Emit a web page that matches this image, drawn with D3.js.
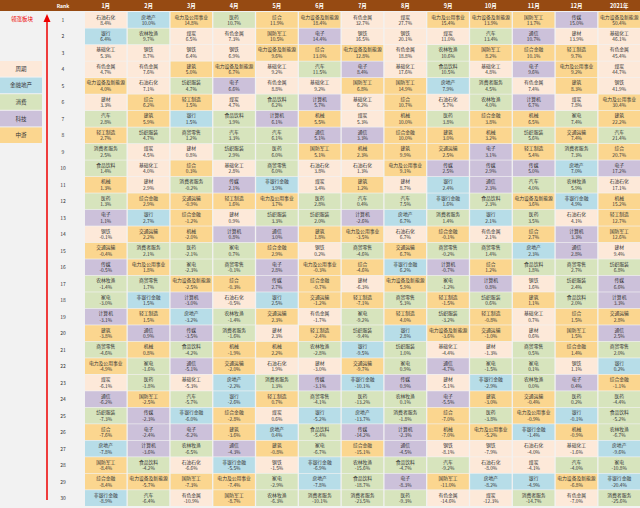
<!DOCTYPE html>
<html><head><meta charset="utf-8">
<script src="https://cdn.jsdelivr.net/npm/d3@7"></script>
<style>body{margin:0;background:#f2f2f2;}svg{display:block;font-family:"Noto Sans CJK SC",sans-serif;}</style>
</head><body><svg id="c" width="640" height="508"></svg>
<script>
const months = ["1月","2月","3月","4月","5月","6月","7月","8月","9月","10月","11月","12月","2021年"];
const n1 = ["石油石化","银行","基础化工","有色金属","电力设备及新能源","建材","汽车","轻工制造","消费者服务","食品饮料","机械","医药","电子","钢铁","交通运输","传媒","农林牧渔","家电","计算机","建筑","商贸零售","电力及公用事业","煤炭","通信","纺织服装","综合","房地产","国防军工","综合金融","非银行金融"];
const v1 = [8.4,6.4,5.3,4.7,4.0,3.3,2.8,2.7,2.5,1.4,1.3,1.3,1.1,-0.1,-0.4,-0.5,-1.4,-3.0,-3.1,-3.8,-4.6,-4.9,-6.1,-6.2,-7.3,-7.6,-7.8,-8.4,-8.4,-8.9];
const n2 = ["房地产","农林牧渔","钢铁","有色金属","石油石化","综合","建筑","纺织服装","煤炭","基础化工","建材","综合金融","银行","交通运输","消费者服务","电力及公用事业","商贸零售","非银行金融","轻工制造","通信","机械","家电","医药","国防军工","传媒","电子","计算机","食品饮料","电力设备及新能源","汽车"];
const v2 = [10.0,9.7,8.7,7.6,7.1,6.2,5.9,4.7,4.5,4.0,2.9,2.9,2.7,2.2,2.1,1.8,1.7,1.5,1.5,0.9,0.8,-1.6,-1.8,-2.5,-2.3,-2.4,-3.6,-4.2,-5.7,-6.4];
const n3 = ["电力及公用事业","煤炭","钢铁","建筑","纺织服装","轻工制造","银行","商贸零售","建材","综合","消费者服务","交通运输","综合金融","机械","医药","家电","电力设备及新能源","计算机","房地产","传媒","食品饮料","通信","基础化工","汽车","非银行金融","电子","农林牧渔","石油石化","国防军工","有色金属"];
const v3 = [14.8,6.5,6.4,5.0,4.7,1.5,1.5,1.2,0.8,0.3,-0.2,-0.9,-1.2,-2.0,-2.1,-2.3,-2.5,-3.0,-3.2,-3.5,-4.2,-5.1,-5.3,-5.7,-6.0,-6.2,-6.5,-6.6,-7.3,-10.9];
const n4 = ["医药","有色金属","钢铁","电力设备及新能源","电子","煤炭","食品饮料","汽车","纺织服装","基础化工","传媒","轻工制造","建材","计算机","家电","商贸零售","综合","石油石化","农林牧渔","消费者服务","机械","交通运输","房地产","银行","综合金融","建筑","通信","非银行金融","电力及公用事业","国防军工"];
const v4 = [10.7,7.3,6.9,6.7,6.6,4.7,3.9,3.3,2.9,2.8,2.1,1.6,0.9,0.8,0.7,-0.1,-0.3,-0.5,-1.4,-1.6,-1.9,-2.0,-2.2,-2.6,-2.8,-3.6,-4.3,-5.5,-7.4,-8.7];
const n5 = ["综合","国防军工","电力设备及新能源","基础化工","有色金属","食品饮料","计算机","汽车","医药","商贸零售","非银行金融","电力及公用事业","纺织服装","通信","综合金融","电子","传媒","银行","交通运输","建材","机械","石油石化","消费者服务","轻工制造","煤炭","房地产","建筑","钢铁","家电","农林牧渔"];
const v5 = [11.9,10.5,9.6,9.2,8.8,6.2,6.1,6.1,6.0,6.0,3.9,3.7,3.3,3.0,2.9,2.8,2.7,2.5,2.3,2.3,2.2,1.9,1.3,0.7,0.6,0.4,-0.8,-1.5,-2.9,-6.3];
const n6 = ["电力设备及新能源","电子","综合","汽车","基础化工","计算机","机械","通信","国防军工","石油石化","煤炭","医药","纺织服装","建筑","钢铁","电力及公用事业","综合金融","交通运输","有色金属","轻工制造","农林牧渔","建材","传媒","商贸零售","银行","食品饮料","家电","非银行金融","房地产","消费者服务"];
const v6 = [18.4,14.4,13.0,11.5,9.2,5.7,5.5,5.1,5.1,3.8,3.4,2.8,2.0,1.8,0.2,-0.3,-0.7,-1.2,-1.7,-2.4,-2.8,-3.0,-3.1,-4.1,-5.2,-5.4,-6.7,-6.9,-7.8,-10.1];
const n7 = ["有色金属","钢铁","电力设备及新能源","电子","国防军工","基础化工","煤炭","通信","机械","石油石化","建筑","汽车","计算机","电力及公用事业","商贸零售","综合","建材","轻工制造","家电","纺织服装","银行","交通运输","非银行金融","医药","房地产","传媒","综合金融","农林牧渔","食品饮料","消费者服务"];
const v7 = [32.7,16.5,12.8,8.4,6.8,6.2,5.3,3.3,2.3,1.3,1.2,0.4,-2.6,-3.5,-4.6,-4.6,-6.3,-7.1,-9.2,-9.4,-9.5,-9.7,-10.1,-13.2,-13.7,-14.2,-15.1,-15.6,-18.7,-23.5];
const n8 = ["煤炭","钢铁","有色金属","基础化工","国防军工","综合","机械","综合金融","建筑","电力及公用事业","建材","汽车","房地产","石油石化","交通运输","非银行金融","电力设备及新能源","商贸零售","轻工制造","银行","纺织服装","家电","传媒","农林牧渔","消费者服务","计算机","通信","食品饮料","电子","医药"];
const v8 = [27.7,20.1,18.8,17.6,14.9,10.7,10.0,10.0,9.9,9.1,8.7,7.5,6.7,6.7,6.7,6.2,5.9,5.3,4.0,2.8,1.0,0.9,0.9,0.1,-1.8,-2.3,-4.5,-4.7,-8.3,-9.3];
const n9 = ["电力及公用事业","煤炭","农林牧渔","食品饮料","房地产","石油石化","医药","建筑","交通运输","传媒","银行","非银行金融","消费者服务","综合金融","商贸零售","计算机","家电","轻工制造","纺织服装","电力设备及新能源","基础化工","通信","建材","电子","综合","机械","钢铁","汽车","国防军工","有色金属"];
const v9 = [15.4,11.0,10.6,10.5,7.9,5.7,3.8,3.0,2.5,2.5,2.4,1.6,1.4,-0.1,-0.2,-0.7,-1.2,-1.5,-3.2,-3.6,-4.4,-4.7,-5.1,-5.5,-7.0,-7.0,-8.1,-9.2,-11.0,-14.6];
const n10 = ["电力设备及新能源","汽车","国防军工","基础化工","消费者服务","农林牧渔","综合金融","机械","电子","传媒","通信","食品饮料","银行","有色金属","商贸零售","综合","计算机","纺织服装","轻工制造","交通运输","建材","家电","非银行金融","建筑","医药","电力及公用事业","钢铁","石油石化","房地产","煤炭"];
const v10 = [13.9,13.4,8.2,4.8,4.5,4.0,3.8,3.2,3.1,2.9,2.3,2.3,2.1,2.1,1.4,1.2,0.8,0.6,-0.8,-1.0,-1.3,-1.5,-2.9,-3.0,-3.8,-5.2,-7.9,-8.0,-8.2,-12.3];
const n11 = ["国防军工","通信","综合金融","电子","有色金属","计算机","机械","纺织服装","轻工制造","传媒","汽车","电力设备及新能源","医药","综合","房地产","食品饮料","钢铁","建筑","基础化工","建材","商贸零售","家电","农林牧渔","交通运输","电力及公用事业","非银行金融","石油石化","煤炭","银行","消费者服务"];
const v11 = [13.7,10.7,10.1,9.6,7.4,6.7,6.5,5.6,5.4,5.0,4.0,3.6,3.5,2.7,2.3,1.8,1.6,1.1,0.7,0.6,0.5,0.1,0.0,-0.4,-0.9,-1.4,-4.0,-4.1,-4.9,-14.7];
const n12 = ["传媒","建材","轻工制造","电力及公用事业","建筑","煤炭","家电","交通运输","消费者服务","房地产","农林牧渔","非银行金融","石油石化","计算机","通信","商贸零售","纺织服装","食品饮料","综合","国防军工","综合金融","钢铁","电子","医药","银行","机械","基础化工","汽车","电力设备及新能源","有色金属"];
const v12 = [15.0,13.9,9.7,9.2,8.3,7.8,7.4,7.4,7.3,7.0,5.9,4.9,4.1,3.3,2.8,2.7,2.4,2.0,1.5,1.5,1.4,1.1,0.4,0.2,-0.1,-0.9,-1.6,-4.0,-6.8,-7.0];
const n13 = ["电力设备及新能源","基础化工","有色金属","煤炭","钢铁","电力及公用事业","建筑","汽车","综合","电子","石油石化","机械","轻工制造","国防军工","建材","纺织服装","传媒","计算机","交通运输","通信","商贸零售","银行","综合金融","医药","食品饮料","农林牧渔","房地产","家电","非银行金融","消费者服务"];
const v13 = [50.4,46.1,45.4,44.7,41.9,30.4,22.2,21.4,20.7,17.2,17.1,15.2,12.7,12.6,9.4,6.8,6.6,3.3,2.8,2.5,2.0,0.2,-1.1,-4.4,-5.2,-6.7,-9.6,-10.8,-20.4,-25.6];
const groups = ["周期","金融地产","消费","科技","中游"];
const cyc = ["石油石化","煤炭","有色金属","钢铁","基础化工","建材"];
const fin = ["银行","非银行金融","房地产"];
const con = ["汽车","家电","食品饮料","纺织服装","医药","农林牧渔","商贸零售","消费者服务"];
const tech = ["电子","通信","计算机","传媒"];
const ranks = d3.range(1,31);

const colors = {"周期":"#fde9d9","金融地产":"#b7dde8","消费":"#d7e4bd","科技":"#ccc1da","中游":"#fbd68f"};
const grp = n => cyc.includes(n)?"周期":fin.includes(n)?"金融地产":con.includes(n)?"消费":tech.includes(n)?"科技":"中游";
const names=[n1,n2,n3,n4,n5,n6,n7,n8,n9,n10,n11,n12,n13], vals=[v1,v2,v3,v4,v5,v6,v7,v8,v9,v10,v11,v12,v13];

const svg=d3.select("#c");
const x=d3.scaleBand().domain(months).range([85,640]).paddingInner(0.03);
const y=d3.scaleBand().domain(ranks).range([12,506]).paddingInner(0.04);
svg.append("rect").attr("x",0).attr("y",0).attr("width",640).attr("height",11).attr("fill","#964a12");
svg.selectAll(".mh").data(months).join("text").attr("x",d=>x(d)+x.bandwidth()/2).attr("y",8).attr("text-anchor","middle")
 .attr("font-size",5.5).attr("font-weight","bold").attr("fill","#fff").text(d=>d);
svg.append("text").attr("x",63).attr("y",8).attr("text-anchor","middle").attr("font-size",5).attr("font-weight","bold").attr("fill","#fff").text("Rank");
svg.selectAll(".rk").data(ranks).join("text").attr("x",63).attr("y",d=>y(d)+y.bandwidth()/2+2).attr("text-anchor","middle").attr("font-size",5).attr("fill","#333").text(d=>d);
// arrow
svg.append("line").attr("x1",47).attr("x2",47).attr("y1",500).attr("y2",20).attr("stroke","#e00").attr("stroke-width",1.5);
svg.append("path").attr("d","M43.5,22 L47,14 L50.5,22 Z").attr("fill","#e00");
svg.append("text").attr("x",22).attr("y",21).attr("text-anchor","middle").attr("font-size",5.5).attr("fill","#e00").text("领涨板块");
// legend
const ly=d3.scaleBand().domain(groups).range([61,143]).paddingInner(0.06);
svg.selectAll(".lg").data(groups).join("rect").attr("x",0).attr("y",d=>ly(d)).attr("width",42).attr("height",ly.bandwidth()).attr("fill",d=>colors[d]);
svg.selectAll(".lt").data(groups).join("text").attr("x",21).attr("y",d=>ly(d)+ly.bandwidth()/2+2).attr("text-anchor","middle").attr("font-size",5.5).attr("fill","#333").text(d=>d);
// cells
const cells=[];
months.forEach((m,i)=>names[i].forEach((n,j)=>cells.push({m,r:ranks[j],n,v:vals[i][j]})));
const g=svg.selectAll(".cell").data(cells).join("g");
g.append("rect").attr("x",d=>x(d.m)).attr("y",d=>y(d.r)).attr("width",x.bandwidth()).attr("height",y.bandwidth()).attr("fill",d=>colors[grp(d.n)]);
g.append("text").attr("x",d=>x(d.m)+x.bandwidth()/2).attr("y",d=>y(d.r)+6.5).attr("text-anchor","middle").attr("font-size",4.8).attr("fill","#333").text(d=>d.n);
g.append("text").attr("x",d=>x(d.m)+x.bandwidth()/2).attr("y",d=>y(d.r)+13).attr("text-anchor","middle").attr("font-size",4.8).attr("fill","#333").text(d=>d.v.toFixed(1)+"%");
</script></body></html>
